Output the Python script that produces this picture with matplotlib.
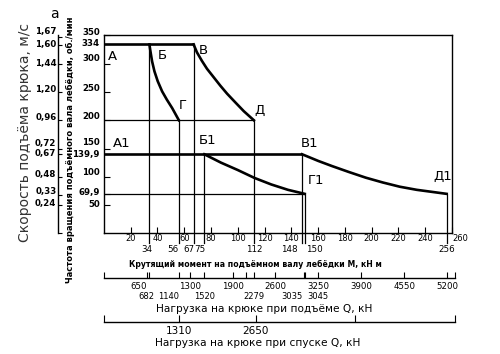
import matplotlib
matplotlib.use('Agg')
import matplotlib.pyplot as plt

# torque on the hoist shaft M, kN m
torque_ticks = [20, 40, 60, 80, 100, 120, 140, 160, 180, 200, 220, 240, 260]
torque_marks = [34, 56, 67, 75, 112, 148, 150, 256]
mark_tops = [334, 200, 334, 139.9, 200, 139.9, 69.9, 69.9]

# shaft speed, rpm
rpm_ticks = [50, 69.9, 100, 139.9, 150, 200, 250, 300, 334, 350]
rpm_labels = ['50', '69,9', '100', '139,9', '150', '200', '250', '300', '334', '350']

# hook speed, m/s
speed_ticks = [0, 0.24, 0.33, 0.48, 0.67, 0.72, 0.96, 1.20, 1.44, 1.60, 1.67]
speed_top = 1.68

# horizontal levels and where they stop
levels = [334, 200, 139.9, 69.9]
level_ends = [67, 112, 148, 150]
level_thick = [True, False, True, False]

# power curves
bg_M = [34, 34.75, 36, 37.75, 40.2, 43.5, 47, 51, 56]
bg_n = [334, 322, 304, 286.5, 269, 251, 236.5, 221.5, 200]
vd_M = [67, 69.5, 73.2, 77, 82, 87, 92, 98.2, 104.5, 112]
vd_n = [334, 320, 305, 291, 276, 261, 247, 231.5, 216, 200]
b1g1_M = [75, 87.5, 100, 112.5, 125, 137.5, 150]
b1g1_n = [139.9, 125, 112, 98, 86.5, 77, 69.9]
v1d1_M = [148, 160.2, 170.4, 183, 195.6, 208.3, 221, 233.7, 246.3, 256]
v1d1_n = [139.9, 128, 119, 108.5, 98.5, 90, 82.5, 77, 73, 69.9]

point_names = ['А', 'Б', 'В', 'Г', 'Д', 'А1', 'Б1', 'В1', 'Г1', 'Д1']
point_M = [0, 34, 67, 56, 112, 0, 75, 148, 150, 256]
point_n = [334, 334, 334, 200, 200, 139.9, 139.9, 139.9, 69.9, 69.9]
point_off = [(9, -12), (13, -11), (10, -6), (4, 15), (6, 10),
             (18, 11), (3, 14), (8, 11), (11, 13), (-4, 17)]

# hook load when lifting, kN
lift_major = [0, 650, 1300, 1950, 2600, 3250, 3900, 4550, 5200, 5320]
lift_major_labels = ['', '650', '1300', '1900', '2600', '3250', '3900', '4550', '5200', '']
lift_minor = [682, 1140, 1520, 2150, 2279, 3035, 3045]
lift_minor_labels = ['682', '1140', '1520', '', '2279', '3035', '3045']

# hook load when lowering, kN
lower_ticks = [0, 1310, 2650, 4380, 6130]
lower_labels = ['', '1310', '2650', '', '']

thick = 1.9
thin = 0.9

fig = plt.figure(figsize=(5, 3.54), dpi=100)
L, B, W, H = 0.2078, 0.3407, 0.6962, 0.5593
ax = fig.add_axes([L, B, W, H])
ax.set_xlim(0, 260)
ax.set_ylim(0, 350)
for s in ax.spines.values():
    s.set_linewidth(1.0)

for n, end, tk in zip(levels, level_ends, level_thick):
    ax.plot([0, end], [n, n], color='black', lw=thick if tk else thin,
            solid_capstyle='butt')

# vertical lines run a bit below the axis
for m, top in zip(torque_marks, mark_tops):
    ax.plot([m, m], [-17, top], color='black', lw=thin, clip_on=False)

for xs, ys in [(bg_M, bg_n), (vd_M, vd_n), (b1g1_M, b1g1_n), (v1d1_M, v1d1_n)]:
    ax.plot(xs, ys, color='black', lw=thick)

for name, m, n, off in zip(point_names, point_M, point_n, point_off):
    ax.annotate(name, (m, n), xytext=off, textcoords='offset pixels',
                ha='center', va='center', fontsize=9.5)

ax.set_xticks(torque_ticks)
ax.set_xticklabels([str(t) for t in torque_ticks])
ax.tick_params(axis='x', direction='in', length=4, width=0.8, pad=0.5,
               labelsize=6)
ax.get_xticklabels()[-1].set_horizontalalignment('left')

# rpm labels drawn by hand, the scan sets most of them a little above the tick
ax.set_yticks(rpm_ticks)
ax.set_yticklabels([])
ax.tick_params(axis='y', direction='in', length=4, width=0.8)
rpm_dy = [1, 1, 4, 0, 6, 4, 3, 5, 1, 3]
for v, lab, dy in zip(rpm_ticks, rpm_labels, rpm_dy):
    ax.annotate(lab, (0, v), xytext=(-4, dy), textcoords='offset pixels',
                ha='right', va='center', fontsize=6.2, fontweight='bold',
                annotation_clip=False)

# special torque values under the axis
mark_ha = ['right', 'right', 'right', 'right', 'center', 'right', 'left', 'center']
mark_dx = [3, 0, 1, 1, 0, -4, 1, 0]
for m, ha, dx in zip(torque_marks, mark_ha, mark_dx):
    ax.annotate(str(m), (m, 0), xytext=(dx, -16.5), textcoords='offset pixels',
                ha=ha, va='center', fontsize=6.3, annotation_clip=False)

# hook speed scale on the far left
ax_s = fig.add_axes([L, B, W, H])
ax_s.patch.set_visible(False)
ax_s.set_ylim(0, speed_top)
ax_s.set_xlim(0, 1)
ax_s.set_xticks([])
for k in ['top', 'right', 'bottom']:
    ax_s.spines[k].set_visible(False)
ax_s.spines['left'].set_position(('outward', 33))
ax_s.spines['left'].set_linewidth(1.0)
ax_s.set_yticks(speed_ticks)
ax_s.set_yticklabels([])
ax_s.tick_params(axis='y', direction='in', length=3, width=0.8)
speed_dy = [0, 2, 3, 2, 1, 5, 3, 2, 0, 0, 5]
for v, dy in zip(speed_ticks, speed_dy):
    if v == 0:
        continue
    ax_s.annotate(f'{v:.2f}'.replace('.', ','), (0, v), xytext=(-47.5, dy),
                  textcoords='offset pixels', ha='right', va='center',
                  fontsize=6.2, fontweight='bold', annotation_clip=False)

# load scales under the chart
def load_axis(y, xmax):
    a = fig.add_axes([0.2076, y, 0.7024, 0.0001])
    a.patch.set_visible(False)
    a.set_xlim(0, xmax)
    a.set_yticks([])
    for k in ['top', 'right', 'left']:
        a.spines[k].set_visible(False)
    a.spines['bottom'].set_linewidth(1.0)
    return a

ax_l = load_axis(0.2138, 5320)
ax_l.set_xticks(lift_major)
ax_l.set_xticklabels(lift_major_labels)
ax_l.set_xticks(lift_minor, minor=True)
ax_l.set_xticklabels([], minor=True)
ax_l.tick_params(axis='x', which='major', direction='in', length=4, width=0.8,
                 pad=3, labelsize=6.2)
ax_l.tick_params(axis='x', which='minor', direction='in', length=4, width=0.8)
for lab in ax_l.get_xticklabels():
    if lab.get_text() == '650':
        lab.set_horizontalalignment('right')

# second row of lifting loads, set by hand so neighbours keep a gap
minor_ha = ['center', 'right', 'center', 'center', 'center', 'right', 'left']
minor_dx = [-2, 0, 0, 0, 0, -2, 2]
for q, lab, ha, dx in zip(lift_minor, lift_minor_labels, minor_ha, minor_dx):
    if lab:
        ax_l.annotate(lab, (q, 0), xytext=(dx, -17.7), textcoords='offset pixels',
                      ha=ha, va='center', fontsize=6.0, annotation_clip=False)

ax_d = load_axis(0.0912, 6130)
ax_d.set_xticks(lower_ticks)
ax_d.set_xticklabels(lower_labels)
ax_d.tick_params(axis='x', direction='in', length=5, width=0.8, pad=3,
                 labelsize=7.5)

fig.text(255 / 500, 1 - 264 / 354, 'Крутящий момент на подъёмном валу лебёдки М, кН м',
         ha='center', va='center', fontsize=5.6, fontweight='bold')
fig.text(264 / 500, 1 - 309 / 354, 'Нагрузка на крюке при подъёме Q, кН',
         ha='center', va='center', fontsize=7.6)
fig.text(258 / 500, 1 - 343 / 354, 'Нагрузка на крюке при спуске Q, кН',
         ha='center', va='center', fontsize=7.6)
fig.text(70 / 500, 1 - 150 / 354, 'Частота вращения подъёмного вала лебёдки, об./мин',
         ha='center', va='center', rotation=90, fontsize=6.0, fontweight='bold')
fig.text(25 / 500, 1 - 132 / 354, 'Скорость подъёма крюка, м/с',
         ha='center', va='center', rotation=90, fontsize=10, color='#333333')
fig.text(54 / 500, 1 - 14 / 354, 'а', ha='center', va='center', fontsize=10)

fig.savefig('out.png', dpi=100)
